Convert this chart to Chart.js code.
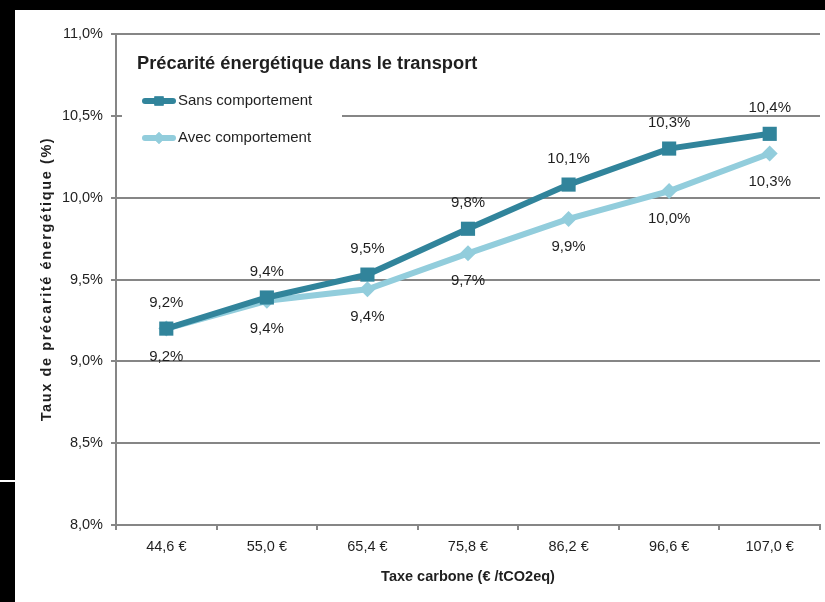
<!DOCTYPE html>
<html>
<head>
<meta charset="utf-8">
<script src="https://cdn.jsdelivr.net/npm/chart.js@4"></script>
<style>
  html, body { margin: 0; padding: 0; background: #000; width: 825px; height: 602px; overflow: hidden; }
  #panel { position: absolute; left: 15px; top: 10px; width: 810px; height: 592px; background: #fff; }
  #mark { position: absolute; left: 0; top: 480px; width: 15px; height: 2px; background: #fff; }
</style>
</head>
<body>
<div id="mark"></div>
<div id="panel"><canvas id="taxChart" width="815" height="592"></canvas></div>
<script>
const categories = ['44,6 €', '55,0 €', '65,4 €', '75,8 €', '86,2 €', '96,6 €', '107,0 €'];
const sansComportement = [9.20, 9.39, 9.53, 9.81, 10.08, 10.30, 10.39];
const avecComportement = [9.20, 9.37, 9.44, 9.66, 9.87, 10.04, 10.27];
const yTicks = [8.0, 8.5, 9.0, 9.5, 10.0, 10.5, 11.0];

const darkTeal = '#31849b';
const lightBlue = '#92cddc';
const gridGray = '#868686';
const textColor = '#1f1f1f';
const fontFamily = "'Liberation Sans', Arial, sans-serif";

const fmt = v => v.toFixed(1).replace('.', ',') + '%';

const decorations = {
    id: 'decorations',
    afterDatasetsDraw(chart) {
        const ctx = chart.ctx;
        ctx.save();
        // data labels
        ctx.font = '15px ' + fontFamily;
        ctx.fillStyle = textColor;
        ctx.textAlign = 'center';
        ctx.textBaseline = 'middle';
        chart.getDatasetMeta(0).data.forEach((p, i) => {
            ctx.fillText(fmt(sansComportement[i]), p.x, p.y - 26);
        });
        chart.getDatasetMeta(1).data.forEach((p, i) => {
            ctx.fillText(fmt(avecComportement[i]), p.x, p.y + 28);
        });

        // white box behind title + legend
        ctx.fillStyle = '#fff';
        ctx.fillRect(107, 30, 220, 115);

        // title
        ctx.fillStyle = textColor;
        ctx.textAlign = 'left';
        ctx.font = 'bold 18.3px ' + fontFamily;
        ctx.fillText('Précarité énergétique dans le transport', 122, 54);

        // legend
        const entries = [
            { label: 'Sans comportement', color: darkTeal, y: 91, style: 'rect', r: 6.5 },
            { label: 'Avec comportement', color: lightBlue, y: 128, style: 'rectRot', r: 6 }
        ];
        entries.forEach(e => {
            ctx.strokeStyle = e.color;
            ctx.lineWidth = 6;
            ctx.lineCap = 'round';
            ctx.beginPath();
            ctx.moveTo(130, e.y);
            ctx.lineTo(158, e.y);
            ctx.stroke();
            ctx.fillStyle = e.color;
            Chart.helpers.drawPoint(ctx, { pointStyle: e.style, radius: e.r, borderWidth: 0 }, 144, e.y);
            ctx.fill();
            ctx.fillStyle = textColor;
            ctx.font = '15px ' + fontFamily;
            ctx.fillText(e.label, 163, e.y);
        });

        // axis titles
        ctx.font = 'bold 14.5px ' + fontFamily;
        ctx.textAlign = 'center';
        ctx.fillText('Taxe carbone (€ /tCO2eq)', (chart.chartArea.left + chart.chartArea.right) / 2, 567);
        ctx.translate(32, 269);
        ctx.rotate(-Math.PI / 2);
        ctx.letterSpacing = '1.6px';
        ctx.fillText('Taux de précarité énergétique (%)', 0, 0);
        ctx.restore();
    }
};

const ctx = document.getElementById('taxChart').getContext('2d');
const taxChart = new Chart(ctx, {
    type: 'line',
    data: {
        labels: categories,
        datasets: [{
            label: 'Sans comportement',
            data: sansComportement,
            borderColor: darkTeal,
            backgroundColor: darkTeal,
            borderWidth: 6,
            pointStyle: 'rect',
            pointRadius: 10,
            pointBorderWidth: 0,
            pointBackgroundColor: darkTeal,
            tension: 0
        }, {
            label: 'Avec comportement',
            data: avecComportement,
            borderColor: lightBlue,
            backgroundColor: lightBlue,
            borderWidth: 6,
            pointStyle: 'rectRot',
            pointRadius: 8,
            pointBorderWidth: 0,
            pointBackgroundColor: lightBlue,
            tension: 0
        }]
    },
    options: {
        responsive: false,
        animation: false,
        layout: { padding: { top: 24, right: 0, left: 0, bottom: 0 } },
        plugins: {
            legend: { display: false },
            tooltip: { enabled: false }
        },
        scales: {
            x: {
                offset: true,
                grid: {
                    offset: true,
                    drawOnChartArea: false,
                    color: gridGray,
                    lineWidth: 2,
                    tickLength: 5
                },
                border: { color: gridGray, width: 2 },
                ticks: {
                    color: textColor,
                    padding: 8,
                    font: { size: 14.5, family: fontFamily }
                },
                afterFit(scale) { scale.height = 77; }
            },
            y: {
                min: 8,
                max: 11,
                afterBuildTicks(scale) { scale.ticks = yTicks.map(v => ({ value: v })); },
                grid: {
                    color: gridGray,
                    lineWidth: 2,
                    tickLength: 5
                },
                border: { color: gridGray, width: 2 },
                ticks: {
                    color: textColor,
                    padding: 8,
                    font: { size: 14.5, family: fontFamily },
                    callback: v => fmt(v)
                },
                afterFit(scale) { scale.width = 101; }
            }
        }
    },
    plugins: [decorations]
});
</script>
</body>
</html>
